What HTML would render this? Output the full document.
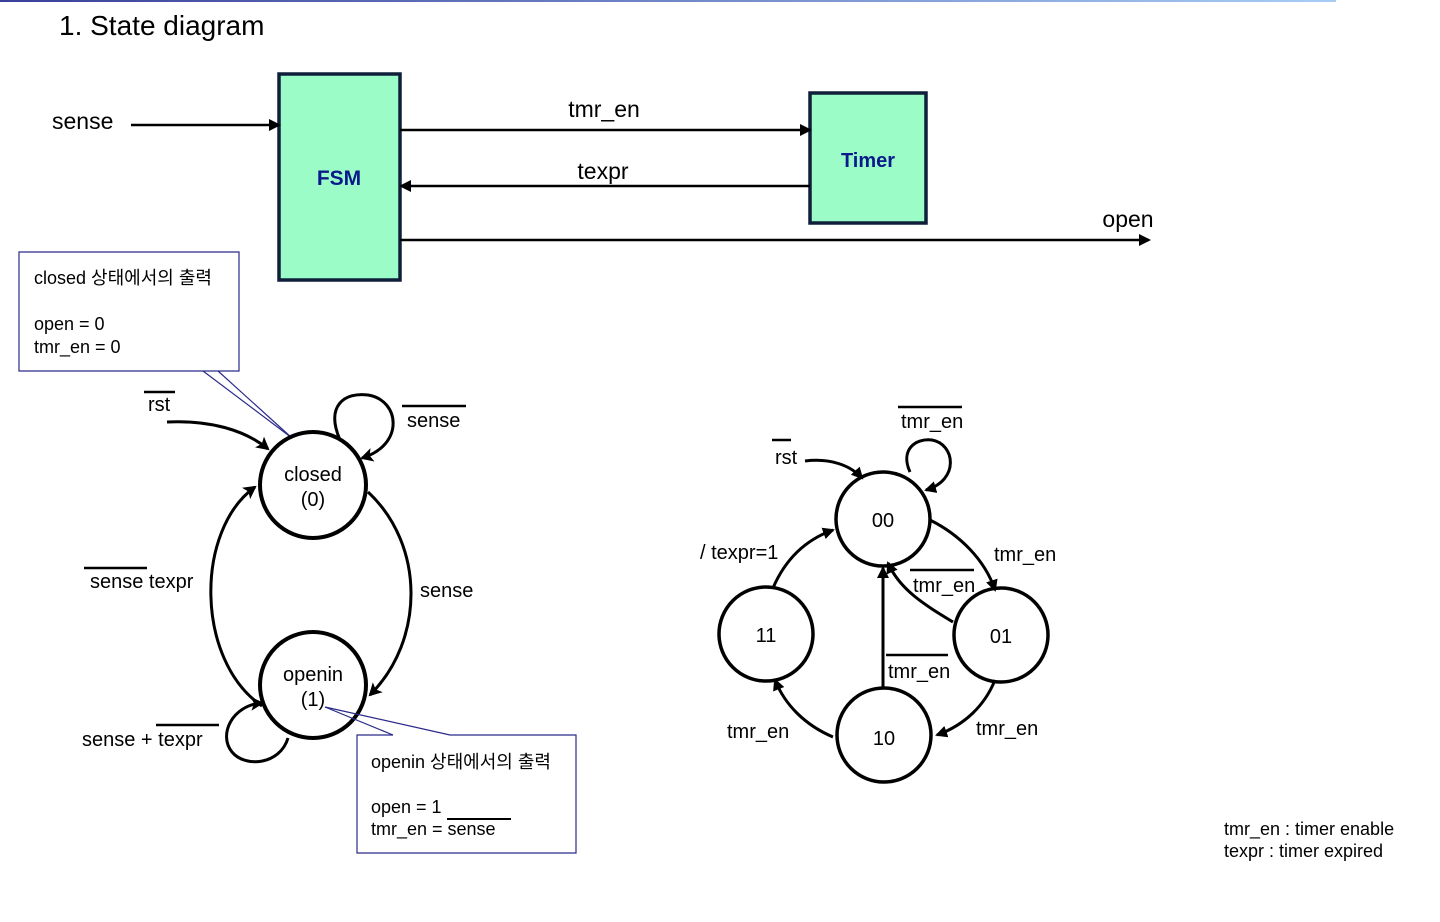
<!DOCTYPE html>
<html><head><meta charset="utf-8"><style>
html,body{margin:0;padding:0;background:#fff;width:1440px;height:922px;overflow:hidden}
svg{display:block}
text{font-family:"Liberation Sans","Noto Sans CJK KR",sans-serif;fill:#000}
</style></head><body>
<svg width="1440" height="922" viewBox="0 0 1440 922" xmlns="http://www.w3.org/2000/svg">
<defs>
<linearGradient id="g" x1="0" x2="1"><stop offset="0" stop-color="#3a3f9a"/><stop offset="1" stop-color="#a8cdf5"/></linearGradient>
<marker id="a" markerWidth="12" markerHeight="12" refX="10" refY="6" orient="auto" markerUnits="userSpaceOnUse"><path d="M0,0 L12,6 L0,12 z" fill="#000"/></marker>
<marker id="b" markerWidth="14" markerHeight="14" refX="11" refY="7" orient="auto" markerUnits="userSpaceOnUse"><path d="M0,0 L13,7 L0,14 L3,7 z" fill="#000"/></marker>
</defs>
<rect x="0" y="0" width="1336" height="2" fill="url(#g)"/>
<text x="59" y="35" font-size="28">1. State diagram</text>

<rect x="279" y="74" width="121" height="206" fill="#9cfcc8" stroke="#0f1f3a" stroke-width="3.5"/>
<text x="339" y="185" font-size="21" font-weight="bold" text-anchor="middle" style="fill:#0a1a8a">FSM</text>
<rect x="810" y="93" width="116" height="130" fill="#9cfcc8" stroke="#0f1f3a" stroke-width="3.5"/>
<text x="868" y="167" font-size="20" font-weight="bold" text-anchor="middle" style="fill:#0a1a8a">Timer</text>
<text x="52" y="129" font-size="23">sense</text>
<line x1="131" y1="125" x2="279" y2="125" stroke="#000" stroke-width="2.5" marker-end="url(#a)"/>
<line x1="400" y1="130" x2="810" y2="130" stroke="#000" stroke-width="2.5" marker-end="url(#a)"/>
<text x="604" y="117" font-size="23" text-anchor="middle">tmr_en</text>
<line x1="810" y1="186" x2="401" y2="186" stroke="#000" stroke-width="2.5" marker-end="url(#a)"/>
<text x="603" y="179" font-size="23" text-anchor="middle">texpr</text>
<line x1="400" y1="240" x2="1149" y2="240" stroke="#000" stroke-width="2.5" marker-end="url(#a)"/>
<text x="1128" y="227" font-size="23" text-anchor="middle">open</text>

<g stroke="#2a2a8a" stroke-width="1.2" fill="none">
<path d="M203,371 L19,371 L19,252 L239,252 L239,371 L203,371"/>
<line x1="203" y1="371" x2="292" y2="438"/>
<line x1="218" y1="371" x2="292" y2="438"/>
</g>
<text x="34" y="284" font-size="18">closed 상태에서의 출력</text>
<text x="34" y="330" font-size="18">open = 0</text>
<text x="34" y="353" font-size="18">tmr_en = 0</text>

<g fill="none" stroke="#000" stroke-width="3">
<circle cx="313" cy="485" r="53" stroke-width="4"/>
<circle cx="313" cy="685" r="53" stroke-width="4"/>
<path d="M167,422 C210,420 245,430 268,449" marker-end="url(#b)"/>
<path d="M340,440 C325,405 345,392 368,395 C400,400 405,445 362,458" marker-end="url(#b)"/>
<path d="M262,706 C195,660 195,530 255,487" marker-end="url(#b)"/>
<path d="M368,492 C425,545 425,640 370,695" marker-end="url(#b)"/>
<path d="M288,738 C280,765 245,768 232,752 C218,735 232,705 262,703" marker-end="url(#b)"/>
</g>
<line x1="144" y1="392" x2="175" y2="392" stroke="#000" stroke-width="2.5"/>
<text x="148" y="411" font-size="20">rst</text>
<line x1="402" y1="406" x2="466" y2="406" stroke="#000" stroke-width="2.5"/>
<text x="407" y="427" font-size="20">sense</text>
<text x="313" y="481" font-size="20" text-anchor="middle">closed</text>
<text x="313" y="506" font-size="20" text-anchor="middle">(0)</text>
<text x="313" y="681" font-size="20" text-anchor="middle">openin</text>
<text x="313" y="706" font-size="20" text-anchor="middle">(1)</text>
<line x1="84" y1="568" x2="147" y2="568" stroke="#000" stroke-width="2.5"/>
<text x="90" y="588" font-size="20">sense texpr</text>
<text x="420" y="597" font-size="20">sense</text>
<text x="82" y="746" font-size="20">sense  +  texpr</text>
<line x1="156" y1="725" x2="219" y2="725" stroke="#000" stroke-width="2.5"/>

<g stroke="#2a2a8a" stroke-width="1.2" fill="none">
<path d="M393,735 L357,735 L357,853 L576,853 L576,735 L450,735"/>
<line x1="325" y1="707" x2="393" y2="735"/>
<line x1="325" y1="707" x2="450" y2="735"/>
</g>
<text x="371" y="768" font-size="18">openin 상태에서의 출력</text>
<text x="371" y="813" font-size="18">open = 1</text>
<text x="371" y="835" font-size="18">tmr_en = sense</text>
<line x1="447" y1="819" x2="511" y2="819" stroke="#000" stroke-width="2"/>

<g fill="none" stroke="#000" stroke-width="3">
<circle cx="883" cy="519" r="47" stroke-width="3.5"/>
<circle cx="1001" cy="635" r="47" stroke-width="3.5"/>
<circle cx="766" cy="634" r="47" stroke-width="3.5"/>
<circle cx="884" cy="735" r="47" stroke-width="3.5"/>
<path d="M805,461 C830,458 850,465 862,478" marker-end="url(#a)"/>
<path d="M910,472 C900,450 915,438 932,440 C955,444 960,480 926,490" marker-end="url(#a)"/>
<path d="M930,520 C960,535 985,560 995,590" marker-end="url(#a)"/>
<path d="M953,622 C925,605 900,590 888,563" marker-end="url(#a)"/>
<line x1="883" y1="688" x2="883" y2="568" marker-end="url(#a)"/>
<path d="M995,680 C985,705 965,725 937,735" marker-end="url(#a)"/>
<path d="M833,737 C805,725 785,705 775,680" marker-end="url(#a)"/>
<path d="M773,588 C785,560 805,540 833,530" marker-end="url(#a)"/>
</g>
<text x="883" y="527" font-size="20" text-anchor="middle">00</text>
<text x="1001" y="643" font-size="20" text-anchor="middle">01</text>
<text x="766" y="642" font-size="20" text-anchor="middle">11</text>
<text x="884" y="745" font-size="20" text-anchor="middle">10</text>
<line x1="772" y1="440" x2="791" y2="440" stroke="#000" stroke-width="2.5"/>
<text x="775" y="464" font-size="20">rst</text>
<line x1="898" y1="407" x2="962" y2="407" stroke="#000" stroke-width="2.5"/>
<text x="901" y="428" font-size="20">tmr_en</text>
<text x="994" y="561" font-size="20">tmr_en</text>
<line x1="910" y1="570" x2="974" y2="570" stroke="#000" stroke-width="2.5"/>
<text x="913" y="592" font-size="20">tmr_en</text>
<line x1="886" y1="655" x2="948" y2="655" stroke="#000" stroke-width="2.5"/>
<text x="888" y="678" font-size="20">tmr_en</text>
<text x="976" y="735" font-size="20">tmr_en</text>
<text x="727" y="738" font-size="20">tmr_en</text>
<text x="700" y="559" font-size="20">/ texpr=1</text>

<text x="1224" y="835" font-size="18">tmr_en : timer enable</text>
<text x="1224" y="857" font-size="18">texpr : timer expired</text>
</svg>
</body></html>
